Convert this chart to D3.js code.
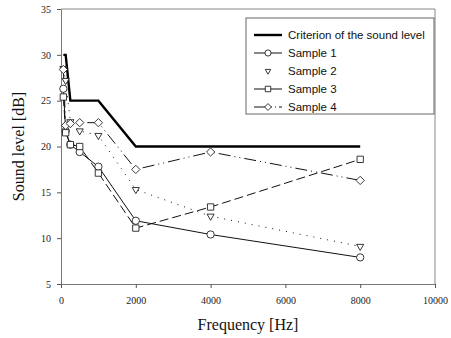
<!DOCTYPE html>
<html>
<head>
<meta charset="utf-8">
<script src="https://cdn.jsdelivr.net/npm/d3@7"></script>
<style>
  html, body { margin: 0; padding: 0; background: #fff; }
  svg { display: block; }
</style>
</head>
<body>
<svg id="chart" width="451" height="338"></svg>
<script>
// Octave-band centre frequencies (Hz)
const frequencies = [63, 125, 250, 500, 1000, 2000, 4000, 8000];

// Criterion of the sound level (dB)
const criterionFreq = [63, 125, 250, 1000, 2000, 8000];
const criterionLevel = [30, 30, 25, 25, 20, 20];

// Measured sound levels (dB)
const sample1 = [26.3, 21.7, 20.2, 19.4, 17.8, 11.9, 10.4, 7.9];
const sample2 = [28.5, 27.2, 22.7, 21.7, 21.2, 15.3, 12.4, 9.1];
const sample3 = [25.4, 21.5, 20.2, 20.0, 17.1, 11.1, 13.4, 18.6];
const sample4 = [28.4, 22.3, 22.5, 22.6, 22.6, 17.5, 19.4, 16.3];

const xTicks = [0, 2000, 4000, 6000, 8000, 10000];
const yTicks = [5, 10, 15, 20, 25, 30, 35];

const seriesNames = ["Sample 1", "Sample 2", "Sample 3", "Sample 4"];

const svg = d3.select("#chart");
const margin = { left: 61, right: 16, top: 9, bottom: 54 };
const W = 451, H = 338;

const x = d3.scaleLinear().domain([0, 10000]).range([margin.left, W - margin.right]);
const y = d3.scaleLinear().domain([5, 35]).range([H - margin.bottom, margin.top]);

const serif = "'Liberation Serif', 'Times New Roman', serif";
const sans = "'Liberation Sans', Arial, sans-serif";

// plot frame (top and right edges)
svg.append("path")
  .attr("d", `M${x(0)},${y(35)}H${x(10000)}V${y(5)}`)
  .attr("fill", "none").attr("stroke", "#888").attr("stroke-width", 1);

// axes
const xAxis = svg.append("g")
  .attr("transform", `translate(0,${y(5)})`)
  .call(d3.axisBottom(x).tickValues(xTicks).tickFormat(d3.format("d"))
    .tickSize(4).tickSizeOuter(0).tickPadding(9));
const yAxis = svg.append("g")
  .attr("transform", `translate(${x(0)},0)`)
  .call(d3.axisLeft(y).tickValues(yTicks).tickFormat(d3.format("d"))
    .tickSize(4).tickSizeOuter(0).tickPadding(6));

[xAxis, yAxis].forEach(g => {
  g.select(".domain").attr("stroke", "#777");
  g.selectAll(".tick line").attr("stroke", "#555");
  g.selectAll(".tick text").attr("font-family", serif).attr("font-size", 10).attr("fill", "#222");
});

// axis titles
svg.append("text")
  .attr("x", x(5000)).attr("y", 330)
  .attr("text-anchor", "middle")
  .attr("font-family", serif).attr("font-size", 16).attr("fill", "#111")
  .text("Frequency [Hz]");
svg.append("text")
  .attr("transform", `translate(24,${y(20)}) rotate(-90)`)
  .attr("text-anchor", "middle")
  .attr("font-family", serif).attr("font-size", 16).attr("fill", "#111")
  .text("Sound level [dB]");

const line = d3.line().x(d => x(d[0])).y(d => y(d[1]));

// criterion
svg.append("path")
  .datum(criterionFreq.map((f, i) => [f, criterionLevel[i]]))
  .attr("d", line)
  .attr("fill", "none").attr("stroke", "#000").attr("stroke-width", 2.4);

const series = [
  { name: seriesNames[0], values: sample1, dash: null, marker: "circle" },
  { name: seriesNames[1], values: sample2, dash: "1,6", marker: "triangle" },
  { name: seriesNames[2], values: sample3, dash: "9,4", marker: "square" },
  { name: seriesNames[3], values: sample4, dash: "12,4,1,4,1,4", marker: "diamond" }
];

const symbolOf = {
  circle: d3.symbol().type(d3.symbolCircle).size(42),
  square: d3.symbol().type(d3.symbolSquare).size(40),
  diamond: d3.symbol().type(d3.symbolDiamond2).size(44),
  triangle: d3.symbol().type(d3.symbolTriangle2).size(36)
};

series.forEach(s => {
  const pts = frequencies.map((f, i) => [f, s.values[i]]);
  svg.append("path")
    .datum(pts)
    .attr("d", line)
    .attr("fill", "none").attr("stroke", "#111").attr("stroke-width", 1)
    .attr("stroke-dasharray", s.dash);
});

series.forEach(s => {
  const pts = frequencies.map((f, i) => [f, s.values[i]]);
  svg.append("g").selectAll("path")
    .data(pts).join("path")
    .attr("d", symbolOf[s.marker])
    .attr("transform", d => `translate(${x(d[0])},${y(d[1])})` + (s.marker === "triangle" ? " rotate(180)" : ""))
    .attr("fill", "#fff").attr("stroke", "#222").attr("stroke-width", 0.9);
});

// legend
const lg = svg.append("g");
const lx = 246, ly = 18, lw = 188, lh = 96;
lg.append("rect").attr("x", lx).attr("y", ly).attr("width", lw).attr("height", lh)
  .attr("fill", "#fff").attr("stroke", "#666").attr("stroke-width", 1);

const rowY = i => ly + 17 + i * 18;
const lineX0 = lx + 8, lineX1 = lx + 36, textX = lx + 42;

lg.append("line").attr("x1", lineX0).attr("x2", lineX1).attr("y1", rowY(0)).attr("y2", rowY(0))
  .attr("stroke", "#000").attr("stroke-width", 2.4);
lg.append("text").attr("x", textX).attr("y", rowY(0) + 4)
  .attr("font-family", sans).attr("font-size", 11.5).attr("fill", "#111")
  .text("Criterion of the sound level");

series.forEach((s, i) => {
  const yy = rowY(i + 1);
  if (s.marker !== "triangle") {
    lg.append("line").attr("x1", lineX0).attr("x2", lineX1).attr("y1", yy).attr("y2", yy)
      .attr("stroke", "#111").attr("stroke-width", 1)
      .attr("stroke-dasharray", s.marker === "diamond" ? "14,3,1,3,1,3" : null);
  }
  lg.append("path")
    .attr("d", d3.symbol().type(
      s.marker === "circle" ? d3.symbolCircle :
      s.marker === "square" ? d3.symbolSquare :
      s.marker === "diamond" ? d3.symbolDiamond2 : d3.symbolTriangle2).size(s.marker === "triangle" ? 22 : 30))
    .attr("transform", `translate(${(lineX0 + lineX1) / 2},${yy})` + (s.marker === "triangle" ? " rotate(180)" : ""))
    .attr("fill", "#fff").attr("stroke", "#222").attr("stroke-width", 0.9);
  lg.append("text").attr("x", textX).attr("y", yy + 4)
    .attr("font-family", sans).attr("font-size", 11.5).attr("fill", "#111")
    .text(s.name);
});
</script>
</body>
</html>
